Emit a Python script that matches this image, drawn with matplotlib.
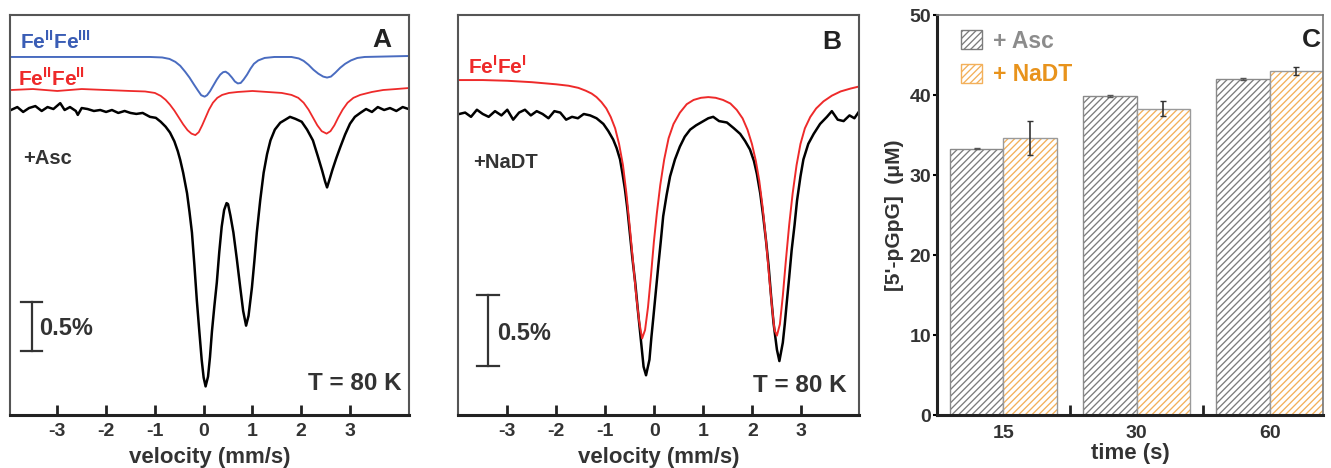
import matplotlib.pyplot as plt
from matplotlib.patches import Patch

plt.rcParams['font.family'] = ['Liberation Sans', 'DejaVu Sans']
plt.rcParams['font.weight'] = 'bold'
plt.rcParams['mathtext.fontset'] = 'custom'
plt.rcParams['mathtext.rm'] = 'Liberation Sans:bold'
plt.rcParams['mathtext.bf'] = 'Liberation Sans:bold'
plt.rcParams['hatch.linewidth'] = 0.95

TEXT_COLOR = '#333333'

# ---- panel A: +Asc spectrum (velocity in mm/s, transmission in %) ----
asc_velocity = [-3.95, -3.82, -3.70, -3.58, -3.45, -3.32, -3.20, -3.08, -2.94, -2.85, -2.74, -2.62,
                -2.58, -2.50, -2.38, -2.25, -2.12, -2.00, -1.88, -1.75, -1.62, -1.50, -1.38, -1.25,
                -1.10, -0.98, -0.88, -0.78, -0.69, -0.60, -0.53, -0.48, -0.42, -0.34, -0.29, -0.24,
                -0.19, -0.14, -0.09, -0.04, 0.00, 0.04, 0.09, 0.13, 0.17, 0.22, 0.27, 0.32, 0.37,
                0.42, 0.47, 0.50, 0.55, 0.61, 0.68, 0.75, 0.81, 0.87, 0.92, 0.99, 1.04, 1.09, 1.16,
                1.23, 1.30, 1.37, 1.46, 1.57, 1.67, 1.77, 1.88, 2.01, 2.12, 2.24, 2.34, 2.43, 2.49,
                2.53, 2.58, 2.64, 2.72, 2.80, 2.90, 3.00, 3.10, 3.21, 3.33, 3.45, 3.57, 3.70, 3.82,
                3.95, 4.08, 4.20]
asc_transmission = [100.00, 100.03, 99.98, 100.02, 100.04, 99.99, 100.03, 100.01, 100.07, 100.00, 100.03, 99.99,
                    99.95, 100.02, 100.01, 99.99, 100.00, 99.98, 100.00, 99.97, 99.99, 99.97, 99.96, 99.97,
                    99.93, 99.92, 99.88, 99.83, 99.77, 99.68, 99.58, 99.49, 99.36, 99.15, 98.96, 98.75,
                    98.42, 98.06, 97.75, 97.45, 97.27, 97.18, 97.28, 97.48, 97.74, 98.00, 98.24, 98.55, 98.81,
                    98.98, 99.05, 99.04, 98.92, 98.75, 98.48, 98.19, 97.95, 97.80, 97.90, 98.19, 98.46, 98.75, 99.08,
                    99.36, 99.55, 99.69, 99.80, 99.87, 99.90, 99.93, 99.91, 99.88, 99.80, 99.69, 99.53, 99.38, 99.27,
                    99.21, 99.29, 99.39, 99.51, 99.62, 99.75, 99.86, 99.93, 99.97, 100.01, 99.98, 100.03, 100.00, 100.02,
                    99.99, 100.03, 100.01]

# Fe(II)Fe(II) component of +Asc
asc_red_velocity = [-3.95, -3.50, -3.00, -2.50, -2.00, -1.50, -1.20, -1.00, -0.88, -0.78, -0.69, -0.60,
                    -0.51, -0.42, -0.33, -0.25, -0.17, -0.10, -0.03, 0.04, 0.11, 0.19, 0.28, 0.38, 0.52,
                    0.70, 1.00, 1.30, 1.60, 1.80, 1.94, 2.05, 2.15, 2.24, 2.33, 2.42, 2.52, 2.60, 2.68,
                    2.76, 2.85, 2.95, 3.07, 3.21, 3.45, 3.68, 3.95, 4.20]
asc_red_transmission = [100.00, 100.01, 99.99, 100.01, 100.00, 99.99, 99.985, 99.97, 99.94, 99.90, 99.85, 99.79,
                        99.72, 99.65, 99.59, 99.555, 99.54, 99.57, 99.64, 99.72, 99.80, 99.87, 99.92, 99.95, 99.97,
                        99.98, 99.99, 99.98, 99.97, 99.95, 99.92, 99.87, 99.80, 99.72, 99.64, 99.58, 99.555, 99.58, 99.64,
                        99.72, 99.80, 99.87, 99.92, 99.95, 99.98, 100.00, 100.01, 100.02]

# Fe(II)Fe(III) component of +Asc
asc_blue_velocity = [-3.95, -1.10, -0.85, -0.70, -0.58, -0.48, -0.38, -0.29, -0.20, -0.12, -0.05, 0.02, 0.07,
                     0.13, 0.20, 0.27, 0.34, 0.40, 0.45, 0.51, 0.58, 0.64, 0.70, 0.76, 0.82, 0.89, 0.96,
                     1.03, 1.12, 1.25, 1.45, 1.80, 1.95, 2.05, 2.15, 2.25, 2.35, 2.45, 2.53, 2.61, 2.70,
                     2.80, 2.90, 3.02, 3.15, 3.30, 4.20]
asc_blue_transmission = [100.00, 100.00, 99.995, 99.98, 99.95, 99.91, 99.85, 99.79, 99.72, 99.66, 99.61, 99.595, 99.61,
                         99.65, 99.71, 99.77, 99.82, 99.845, 99.85, 99.83, 99.79, 99.75, 99.73, 99.735, 99.77, 99.82, 99.88,
                         99.93, 99.965, 99.99, 100.00, 100.00, 99.985, 99.96, 99.92, 99.87, 99.83, 99.80, 99.79, 99.80, 99.84,
                         99.89, 99.93, 99.965, 99.99, 100.00, 100.01]

# ---- panel B: +NaDT spectrum ----
dt_velocity = [-3.98, -3.86, -3.74, -3.62, -3.50, -3.38, -3.25, -3.12, -3.00, -2.88, -2.76, -2.64, -2.52,
               -2.40, -2.28, -2.16, -2.04, -1.92, -1.80, -1.68, -1.56, -1.44, -1.31, -1.18, -1.04, -0.94,
               -0.84, -0.77, -0.70, -0.65, -0.60, -0.55, -0.50, -0.45, -0.39, -0.34, -0.29, -0.22, -0.17,
               -0.10, -0.06, -0.02, 0.03, 0.08, 0.13, 0.18, 0.25, 0.32, 0.42, 0.52, 0.62, 0.73, 0.85, 1.00,
               1.10, 1.20, 1.32, 1.48, 1.62, 1.75, 1.85, 1.95, 2.03, 2.09, 2.16, 2.22, 2.28, 2.33, 2.38,
               2.43, 2.50, 2.55, 2.62, 2.66, 2.70, 2.75, 2.80, 2.86, 2.91, 2.98, 3.04, 3.14, 3.25, 3.38,
               3.52, 3.62, 3.74, 3.86, 3.98, 4.08, 4.18]
dt_transmission = [100.00, 100.01, 99.98, 100.03, 100.00, 99.98, 100.02, 99.99, 100.03, 99.96, 100.01, 100.03, 99.99,
                   100.02, 100.00, 99.97, 100.02, 100.01, 99.96, 99.98, 99.97, 100.00, 99.99, 99.97, 99.93, 99.88,
                   99.82, 99.76, 99.68, 99.58, 99.47, 99.33, 99.16, 98.99, 98.81, 98.63, 98.46, 98.22, 98.16,
                   98.27, 98.43, 98.57, 98.75, 98.93, 99.10, 99.28, 99.43, 99.56, 99.68, 99.77, 99.84, 99.89, 99.92, 99.95,
                   99.97, 99.98, 99.95, 99.94, 99.90, 99.86, 99.81, 99.75, 99.67, 99.58, 99.44, 99.28, 99.10, 98.93, 98.72,
                   98.53, 98.34, 98.26, 98.39, 98.52, 98.67, 98.85, 99.04, 99.22, 99.39, 99.56, 99.68, 99.79, 99.86, 99.93,
                   99.98, 100.02, 99.96, 99.95, 99.99, 99.97, 100.02]

# Fe(II)Fe(II) fit of +NaDT
dt_red_velocity = [-3.98, -3.50, -3.00, -2.50, -2.00, -1.75, -1.55, -1.40, -1.28, -1.18, -1.08, -0.98, -0.89,
                   -0.80, -0.72, -0.64, -0.57, -0.50, -0.43, -0.37, -0.31, -0.25, -0.19, -0.13, -0.07, -0.01,
                   0.05, 0.12, 0.20, 0.29, 0.39, 0.52, 0.66, 0.80, 0.95, 1.10, 1.25, 1.40, 1.55, 1.68,
                   1.80, 1.90, 1.99, 2.07, 2.14, 2.21, 2.28, 2.34, 2.40, 2.45, 2.50, 2.56, 2.62, 2.68,
                   2.75, 2.82, 2.90, 2.98, 3.07, 3.18, 3.30, 3.45, 3.62, 3.80, 4.00, 4.18]
dt_red_transmission = [100.00, 100.00, 99.995, 99.985, 99.97, 99.96, 99.945, 99.925, 99.905, 99.88, 99.845, 99.80, 99.74,
                       99.66, 99.55, 99.40, 99.20, 98.96, 98.70, 98.48, 98.30, 98.18, 98.24, 98.40, 98.62, 98.86,
                       99.06, 99.26, 99.44, 99.59, 99.69, 99.77, 99.83, 99.86, 99.875, 99.88, 99.875, 99.86, 99.835, 99.79,
                       99.73, 99.65, 99.55, 99.43, 99.29, 99.10, 98.86, 98.62, 98.40, 98.24, 98.20, 98.28, 98.48, 98.72,
                       98.98, 99.20, 99.40, 99.55, 99.66, 99.74, 99.80, 99.85, 99.89, 99.92, 99.94, 99.955]

# ---- panel C: 5'-pGpG formation ----
times = ['15', '30', '60']
pgpg_asc = [33.3, 39.9, 42.0]
pgpg_asc_err = [0.1, 0.1, 0.1]
pgpg_dt = [34.6, 38.3, 43.0]
pgpg_dt_err = [2.1, 0.9, 0.5]

VELOCITY_TICKS = [-3, -2, -1, 0, 1, 2, 3]

ASC_HATCH = '#7c7c7c'
DT_HATCH = '#f3b05a'


def style_spectrum_axes(ax, xlim, ylim):
    """box axes with inward ticks on the velocity axis only"""
    ax.set_xlim(*xlim)
    ax.set_ylim(*ylim)
    ax.set_yticks([])
    ax.set_xticks(VELOCITY_TICKS)
    ax.set_xticklabels([str(t) for t in VELOCITY_TICKS])
    ax.tick_params(axis='x', direction='in', length=7, width=2, labelsize=14, pad=6,
                   color='#222222', labelcolor=TEXT_COLOR)
    for side in ['top', 'left', 'right']:
        ax.spines[side].set_color('#555555')
        ax.spines[side].set_linewidth(1.5)
    ax.spines['bottom'].set_color('#222222')
    ax.spines['bottom'].set_linewidth(2.2)
    ax.set_xlabel('velocity (mm/s)', fontsize=16, fontweight='bold', color=TEXT_COLOR, labelpad=5)


def draw_scale_bar(ax, x, y0, size, cap):
    ax.plot([x, x], [y0, y0 + size], color='#333333', lw=1.6)
    ax.plot([x - cap, x + cap], [y0, y0], color='#333333', lw=1.6)
    ax.plot([x - cap, x + cap], [y0 + size, y0 + size], color='#333333', lw=1.6)


fig = plt.figure(figsize=(13.31, 4.68), dpi=100)
ax_a = fig.add_axes([0.0075, 0.1132, 0.2998, 0.8547])
ax_b = fig.add_axes([0.3443, 0.1132, 0.3013, 0.8547])
ax_c = fig.add_axes([0.7038, 0.1132, 0.2902, 0.8547])

# panel A
ax_a.plot(asc_velocity, asc_transmission, color='black', lw=1.8)
ax_a.plot(asc_red_velocity, [t + 0.204 for t in asc_red_transmission], color='#ee2a2a', lw=1.3)
ax_a.plot(asc_blue_velocity, [t + 0.541 for t in asc_blue_transmission], color='#4a6cc0', lw=1.4)
style_spectrum_axes(ax_a, (-3.97, 4.21), (96.888, 100.969))
draw_scale_bar(ax_a, -3.525, 97.54, 0.5, 0.22)
ax_a.text(0.0734, 0.2175, '0.5%', transform=ax_a.transAxes, fontsize=17, color=TEXT_COLOR, va='center')
ax_a.text(0.932, 0.9375, 'A', transform=ax_a.transAxes, fontsize=19, color='#222222', ha='center', va='center')
ax_a.text(0.0326, 0.6425, '+Asc', transform=ax_a.transAxes, fontsize=14.5, color=TEXT_COLOR, va='center')
ax_a.text(0.982, 0.08, 'T = 80 K', transform=ax_a.transAxes, fontsize=17.5, color=TEXT_COLOR, ha='right', va='center')
ax_a.text(0.025, 0.933, r'Fe$^{\mathbf{II}}$Fe$^{\mathbf{III}}$', transform=ax_a.transAxes, fontsize=15,
          color='#3a5db5', va='center')
ax_a.text(0.021, 0.8425, r'Fe$^{\mathbf{II}}$Fe$^{\mathbf{II}}$', transform=ax_a.transAxes, fontsize=15,
          color='#ee2a2a', va='center')

# panel B
ax_b.plot(dt_velocity, dt_transmission, color='black', lw=1.8)
ax_b.plot(dt_red_velocity, [t + 0.239 for t in dt_red_transmission], color='#ee2a2a', lw=1.4)
style_spectrum_axes(ax_b, (-4.0, 4.18), (97.880, 100.697))
draw_scale_bar(ax_b, -3.40, 98.225, 0.5, 0.227)
ax_b.text(0.0958, 0.205, '0.5%', transform=ax_b.transAxes, fontsize=17, color=TEXT_COLOR, va='center')
ax_b.text(0.931, 0.933, 'B', transform=ax_b.transAxes, fontsize=19, color='#222222', ha='center', va='center')
ax_b.text(0.0367, 0.6325, '+NaDT', transform=ax_b.transAxes, fontsize=14.5, color=TEXT_COLOR, va='center')
ax_b.text(0.9686, 0.075, 'T = 80 K', transform=ax_b.transAxes, fontsize=17.5, color=TEXT_COLOR, ha='right', va='center')
ax_b.text(0.025, 0.871, r'Fe$^{\mathbf{I}}$Fe$^{\mathbf{I}}$', transform=ax_b.transAxes, fontsize=15,
          color='#ee2a2a', va='center')

# panel C: hatched grouped bars
idx = list(range(len(times)))
width = 0.4
asc_x = [i - width / 2 for i in idx]
dt_x = [i + width / 2 for i in idx]
ax_c.bar(asc_x, pgpg_asc, width, color='white', edgecolor=ASC_HATCH, hatch='/////', lw=0)
ax_c.bar(asc_x, pgpg_asc, width, fill=False, edgecolor='#8a8a8a', lw=1.0)
ax_c.bar(dt_x, pgpg_dt, width, color='white', edgecolor=DT_HATCH, hatch='/////', lw=0)
ax_c.bar(dt_x, pgpg_dt, width, fill=False, edgecolor='#9a9a9a', lw=1.0)
ax_c.errorbar(asc_x, pgpg_asc, yerr=pgpg_asc_err, fmt='none', ecolor='#555555', elinewidth=1, capsize=2.5)
ax_c.errorbar(dt_x, pgpg_dt, yerr=pgpg_dt_err, fmt='none', ecolor='#333333', elinewidth=1.2, capsize=2.5)

ax_c.set_xlim(-0.5, 2.4)
ax_c.set_ylim(0, 50)
ax_c.set_xticks(idx)
ax_c.set_xticklabels(times)
ax_c.set_xticks([0.5, 1.5], minor=True)
ax_c.tick_params(axis='x', which='major', length=0, labelsize=14, pad=7, labelcolor=TEXT_COLOR)
ax_c.tick_params(axis='x', which='minor', direction='in', length=7, width=2, color='#222222')
ax_c.set_yticks([0, 10, 20, 30, 40, 50])
ax_c.tick_params(axis='y', direction='out', length=3, width=1.5, labelsize=14, pad=1, labelcolor=TEXT_COLOR)
for side in ['top', 'right']:
    ax_c.spines[side].set_color('#777777')
    ax_c.spines[side].set_linewidth(1.2)
for side in ['left', 'bottom']:
    ax_c.spines[side].set_color('#222222')
    ax_c.spines[side].set_linewidth(2.2)
ax_c.set_xlabel('time (s)', fontsize=16, fontweight='bold', color=TEXT_COLOR, labelpad=1)
ax_c.set_ylabel("[5'-pGpG]  (\u03bcM)", fontsize=15, fontweight='bold', color=TEXT_COLOR, labelpad=4)
ax_c.text(0.971, 0.9375, 'C', transform=ax_c.transAxes, fontsize=19, color='#222222', ha='center', va='center')

handles = [Patch(facecolor='white', edgecolor=ASC_HATCH, hatch='/////', label='+ Asc'),
           Patch(facecolor='white', edgecolor=DT_HATCH, hatch='/////', label='+ NaDT')]
leg = ax_c.legend(handles=handles, loc='upper left', bbox_to_anchor=(0.01, 1.015), frameon=False,
                  fontsize=16.5, handlelength=0.9, handleheight=0.9, handletextpad=0.5, labelspacing=0.45)
for text, col in zip(leg.get_texts(), ['#8c8c8c', '#e8931c']):
    text.set_color(col)

fig.savefig('out.png', dpi=100)
